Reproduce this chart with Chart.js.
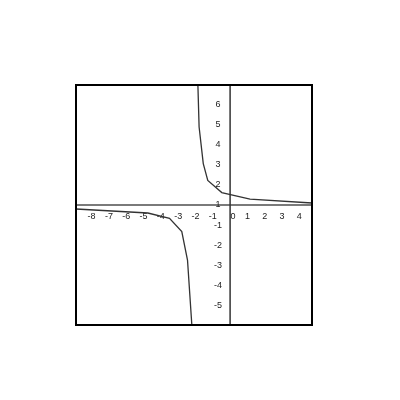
<!DOCTYPE html>
<html>
<head>
<meta charset="utf-8">
<script src="https://cdn.jsdelivr.net/npm/chart.js@4"></script>
<style>
  html, body { margin: 0; padding: 0; background: #fff; }
  #wrap { width: 400px; height: 400px; }
</style>
</head>
<body>
<div id="wrap"><canvas id="myChart" width="400" height="400"></canvas></div>
<script>
// valores
const leftX = [-8.9, -4.75, -3.5, -2.79, -2.46, -2.21];
const leftY = [-0.2, -0.4, -0.67, -1.33, -2.75, -6];
const rightX = [-1.86, -1.79, -1.55, -1.29, -0.48, 1.15, 4.73];
const rightY = [6, 3.9, 2.07, 1.23, 0.62, 0.29, 0.1];
const xTicks = [-8, -7, -6, -5, -4, -3, -2, -1, 0, 1, 2, 3, 4];
const yTicks = [6, 5, 4, 3, 2, 1, -1, -2, -3, -4, -5];

function pts(xs, ys) {
  return xs.map((x, i) => ({ x: x, y: ys[i] }));
}

// eixos no meio, caixa e rótulos
const eixos = {
  id: 'eixos',
  beforeDatasetsDraw(chart) {
    const ctx = chart.ctx, a = chart.chartArea;
    const sx = chart.scales.x, sy = chart.scales.y;
    const x0 = sx.getPixelForValue(0), y0 = sy.getPixelForValue(0);
    ctx.save();
    ctx.strokeStyle = '#7a7a7a';
    ctx.lineWidth = 2;
    ctx.beginPath();
    ctx.moveTo(a.left, y0); ctx.lineTo(a.right, y0);
    ctx.stroke();
    ctx.strokeStyle = '#333';
    ctx.lineWidth = 1.5;
    ctx.beginPath();
    ctx.moveTo(x0, a.top); ctx.lineTo(x0, a.bottom);
    ctx.stroke();

    ctx.fillStyle = '#222';
    ctx.font = '9px "Liberation Sans", Arial, sans-serif';
    ctx.textAlign = 'center';
    ctx.textBaseline = 'middle';
    xTicks.forEach(v => {
      const px = sx.getPixelForValue(v) + (v === 0 ? 3 : 0);
      ctx.fillText(String(v), px, y0 + 12);
    });
    yTicks.forEach(v => {
      const py = v > 0 ? sy.getPixelForValue(v - 1) : sy.getPixelForValue(v) + 1;
      ctx.fillText(String(v), x0 - 12, py);
    });
    ctx.restore();
  },
  afterDraw(chart) {
    const ctx = chart.ctx, a = chart.chartArea;
    ctx.save();
    ctx.strokeStyle = '#000';
    ctx.lineWidth = 2;
    ctx.strokeRect(a.left, a.top, a.right - a.left, a.bottom - a.top);
    ctx.restore();
  }
};

document.addEventListener('DOMContentLoaded', function() {
  const canvas = document.getElementById('myChart');
  new Chart(canvas, {
    type: 'scatter',
    data: {
      datasets: [
        { data: pts(leftX, leftY), showLine: true, borderColor: '#333', borderWidth: 1.3, pointRadius: 0, tension: 0 },
        { data: pts(rightX, rightY), showLine: true, borderColor: '#333', borderWidth: 1.3, pointRadius: 0, tension: 0 }
      ]
    },
    options: {
      responsive: false,
      animation: false,
      layout: { padding: { left: 76, top: 85, right: 88, bottom: 75 } },
      plugins: { legend: { display: false }, tooltip: { enabled: false } },
      scales: {
        x: { type: 'linear', min: -8.9, max: 4.73, display: false },
        y: { type: 'linear', min: -6, max: 6, display: false }
      }
    },
    plugins: [eixos]
  });
});
</script>
</body>
</html>
